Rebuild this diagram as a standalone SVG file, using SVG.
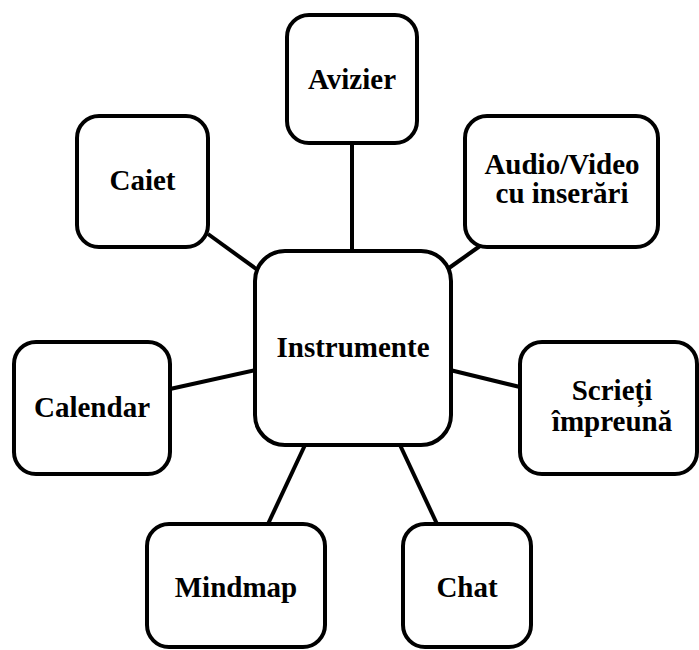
<svg xmlns="http://www.w3.org/2000/svg" width="699" height="650" viewBox="0 0 699 650">
<style>
.box{fill:#fff;stroke:#000;stroke-width:4}
.lbl{font-family:"Liberation Serif","Times New Roman",serif;font-weight:bold;font-size:29px;fill:#000;text-anchor:middle}
.conn line{stroke:#000;stroke-width:4}
</style>
<rect width="699" height="650" fill="#fff"/>
<g id="connectors" class="conn">
<line x1="352" y1="143" x2="352" y2="252"/>
<line x1="449" y1="268" x2="480" y2="246"/>
<line x1="208" y1="234" x2="259" y2="271"/>
<line x1="170" y1="389" x2="256" y2="370"/>
<line x1="450" y1="370" x2="520" y2="387"/>
<line x1="305" y1="445" x2="268" y2="524"/>
<line x1="400" y1="445" x2="437" y2="524"/>
</g>
<g id="instrumente"><rect class="box" x="255" y="251" width="196" height="194" rx="30"/><text class="lbl" x="353" y="357">Instrumente</text></g>
<g id="avizier"><rect class="box" x="287" y="15" width="130" height="128" rx="22"/><text class="lbl" x="352" y="89">Avizier</text></g>
<g id="audio-video"><rect class="box" x="465" y="116" width="193" height="131" rx="22"/><text class="lbl" x="562" y="174">Audio/Video</text><text class="lbl" x="562" y="203">cu inserări</text></g>
<g id="caiet"><rect class="box" x="77" y="116" width="131" height="131" rx="22"/><text class="lbl" x="142.5" y="190">Caiet</text></g>
<g id="calendar"><rect class="box" x="14" y="342" width="156" height="132" rx="22"/><text class="lbl" x="92" y="417">Calendar</text></g>
<g id="scrieti"><rect class="box" x="520" y="342" width="177" height="132" rx="22"/><text class="lbl" x="612" y="400">Scrieți</text><text class="lbl" x="612" y="431">împreună</text></g>
<g id="mindmap"><rect class="box" x="147" y="524" width="178" height="123" rx="22"/><text class="lbl" x="236" y="597">Mindmap</text></g>
<g id="chat"><rect class="box" x="403" y="524" width="128" height="123" rx="22"/><text class="lbl" x="467" y="597">Chat</text></g>
</svg>
